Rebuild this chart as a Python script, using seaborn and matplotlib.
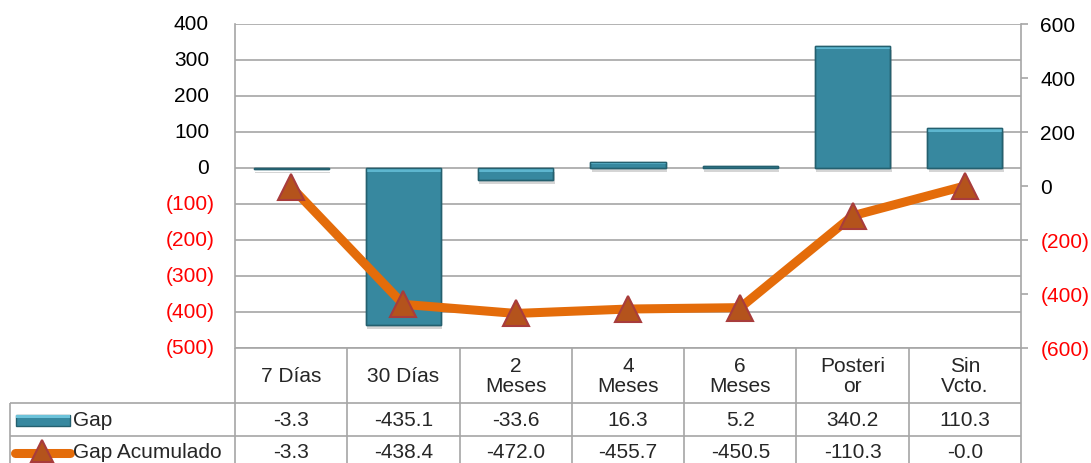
import numpy as np
import pandas as pd
import matplotlib
matplotlib.use("Agg")
import matplotlib.pyplot as plt
import matplotlib.transforms as mtransforms
import matplotlib.patheffects as pe
import seaborn as sns
from matplotlib.patches import Rectangle
from matplotlib.lines import Line2D

# ---- data ----
categories = ["7 Días", "30 Días", "2\nMeses", "4\nMeses", "6\nMeses", "Posteri\nor", "Sin\nVcto."]
gap = [-3.3, -435.1, -33.6, 16.3, 5.2, 340.2, 110.3]
gap_acum = [-3.3, -438.4, -472.0, -455.7, -450.5, -110.3, -0.0]
series_names = ["Gap", "Gap Acumulado"]
left_ticks = [400, 300, 200, 100, 0, -100, -200, -300, -400, -500]
right_ticks = [600, 400, 200, 0, -200, -400, -600]

sns.set_theme(style="white")
plt.rcParams["font.family"] = ["Liberation Sans", "DejaVu Sans"]

W, H = 1091, 463
fig = plt.figure(figsize=(W / 100, H / 100), dpi=100)

x0, x1 = 235, 1021
y_top, y_bot = 24, 348
ax = fig.add_axes([x0 / W, 1 - y_bot / H, (x1 - x0) / W, (y_bot - y_top) / H])

BAR = "#37889F"
EDGE = "#24606F"
ORANGE = "#E46C0A"
GRID = "#A6A6A6"
FS = 15


def fmt(v):
    return f"({abs(v)})" if v < 0 else f"{v}"


df = pd.DataFrame({"cat": categories, "gap": gap})
sns.barplot(data=df, x="cat", y="gap", ax=ax, color=BAR, width=0.67,
            saturation=1, edgecolor=EDGE, linewidth=1.0, zorder=3)
# bevel highlight + shadow
for p in list(ax.patches):
    p.set_path_effects([pe.SimplePatchShadow(offset=(1, -3), shadow_rgbFace="#777777", alpha=0.3),
                        pe.Normal()])
    bx, by, bw, bh = p.get_x(), p.get_y(), p.get_width(), p.get_height()
    top = max(by, by + bh)
    bottom = min(by, by + bh)
    hgt = abs(bh)
    strip = min(10, hgt * 0.35)
    ax.add_patch(Rectangle((bx, top - strip), bw, strip, facecolor="#5DB6CF",
                           edgecolor="none", zorder=3.5))
    ax.add_patch(Rectangle((bx, bottom), bw, hgt, facecolor="none",
                           edgecolor=EDGE, linewidth=1.0, zorder=3.6))

ax.set_ylim(-500, 400)
ax.set_xlim(-0.5, 6.5)
ax.set_yticks(left_ticks)
ax.set_yticklabels([])
ax.tick_params(axis="y", length=0)
ax.set_xticks([])
ax.set_xlabel("")
ax.set_ylabel("")
ax.yaxis.grid(True, color=GRID, linewidth=1.2, zorder=0)
ax.set_axisbelow(True)
for s in ["top", "bottom"]:
    ax.spines[s].set_visible(False)
ax.spines["left"].set_color(GRID)
ax.spines["left"].set_linewidth(1.2)
ax.spines["right"].set_visible(False)

# left tick labels (accounting style: digits aligned, ")" hanging)
ltr = mtransforms.blended_transform_factory(fig.transFigure, ax.transData)
for v in left_ticks:
    xr = 215 if v < 0 else 209
    fig.text(xr / W, v, fmt(v), transform=ltr, ha="right", va="center",
             fontsize=FS, color="red" if v < 0 else "black")

ax2 = ax.twinx()
ld = pd.DataFrame({"x": np.arange(len(categories)), "y": gap_acum})
sns.lineplot(data=ld, x="x", y="y", ax=ax2, color=ORANGE, linewidth=6.5,
             marker="^", markersize=19, markerfacecolor="#B4531C",
             markeredgecolor="#A83C3C", markeredgewidth=1.5, zorder=5)
ax2.set_ylim(-600, 600)
ax2.set_xlim(-0.5, 6.5)
ax2.set_yticks(right_ticks)
ax2.set_yticklabels([fmt(v) for v in right_ticks], fontsize=FS)
for lab, v in zip(ax2.get_yticklabels(), right_ticks):
    lab.set_color("red" if v < 0 else "black")
ax2.tick_params(axis="y", length=5, width=1.2, color=GRID, pad=9, right=True)
ax2.set_ylabel("")
ax2.set_xlabel("")
for s in ["top", "bottom", "left"]:
    ax2.spines[s].set_visible(False)
ax2.spines["right"].set_color(GRID)
ax2.spines["right"].set_linewidth(1.2)
ax2.grid(False)

# ---- data table ----
tab = fig.add_axes([0, 0, 1, 1], zorder=10)
tab.set_xlim(0, W)
tab.set_ylim(H, 0)
tab.axis("off")
tab.patch.set_alpha(0)

ncol = len(categories)
cw = (x1 - x0) / ncol
col_edges = [x0 + i * cw for i in range(ncol + 1)]
r0, r1, r2, r3 = 348, 403, 436, 470
lx = 10
lk = dict(color=GRID, linewidth=1.2, solid_capstyle="butt")
tab.plot([x0, x1], [r0, r0], **lk)
tab.plot([lx, x1], [r1, r1], **lk)
tab.plot([lx, x1], [r2, r2], **lk)
for e in col_edges:
    tab.plot([e, e], [r0, r3], **lk)
tab.plot([lx, lx], [r1, r3], **lk)

for i, c in enumerate(categories):
    cx = x0 + (i + 0.5) * cw
    tab.text(cx, (r0 + r1) / 2 + 1, c, ha="center", va="center", fontsize=FS,
             linespacing=1.0)
    tab.text(cx, (r1 + r2) / 2 + 1, f"{gap[i]:.1f}", ha="center", va="center", fontsize=FS)
    tab.text(cx, (r2 + r3) / 2 - 1, f"{gap_acum[i]:.1f}", ha="center", va="center", fontsize=FS)

# legend keys
ya = (r1 + r2) / 2
tab.add_patch(Rectangle((16, ya - 5), 54, 11, facecolor=BAR, edgecolor=EDGE, linewidth=1))
tab.add_patch(Rectangle((16, ya - 5), 54, 3.5, facecolor="#6DC3DA", edgecolor="none"))
tab.text(73, ya + 1, series_names[0], ha="left", va="center", fontsize=FS)
yb = (r2 + r3) / 2 - 1
tab.add_line(Line2D([15, 70], [yb + 1, yb + 1], color=ORANGE, linewidth=6.5,
                    solid_capstyle="round"))
tab.add_line(Line2D([42], [yb - 1], marker="^", markersize=16, markerfacecolor="#B4531C",
                    markeredgecolor="#A83C3C", markeredgewidth=1.5, linestyle="none"))
tab.text(73, yb, series_names[1], ha="left", va="center", fontsize=FS)

fig.savefig("out.png", dpi=100, facecolor="white")
